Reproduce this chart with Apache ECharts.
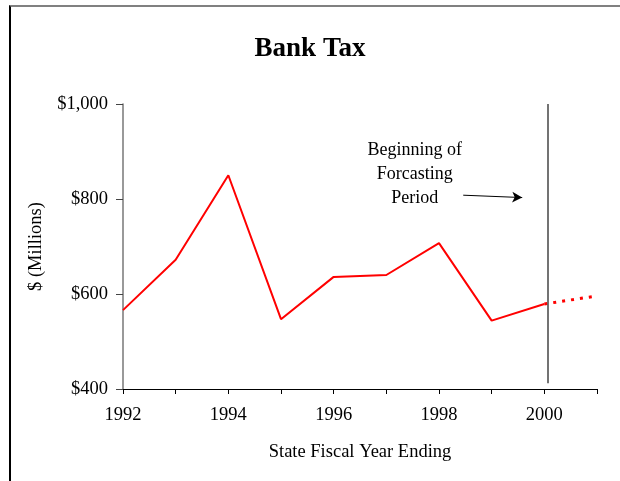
<!DOCTYPE html>
<html>
<head>
<meta charset="utf-8">
<script src="https://cdn.jsdelivr.net/npm/echarts@6/dist/echarts.min.js"></script>
<style>
  html, body { margin: 0; padding: 0; background: #fff; }
  #wrap { position: relative; width: 620px; height: 481px; overflow: hidden; }
  #frame { position: absolute; left: 9px; top: 5px; width: 700px; height: 600px;
           border-top: 2px solid #808080; border-left: 2px solid #000; box-sizing: border-box; }
  #chart { position: absolute; left: 0; top: 0; width: 620px; height: 481px; }
</style>
</head>
<body>
<div id="wrap">
  <div id="frame"></div>
  <div id="chart"></div>
</div>
<script>
// Bank tax collections, $ millions, by state fiscal year ending
const years = [1992, 1993, 1994, 1995, 1996, 1997, 1998, 1999, 2000];
const actual = [566, 672, 850, 547, 636, 640, 707, 544, 579];
const forecastYears = [2000, 2001];
const forecast = [579, 596];
const yTicks = [400, 600, 800, 1000];
const noteLines = ['Beginning of', 'Forcasting', 'Period'];

const FONT = '"Liberation Serif", "Times New Roman", serif';
const forecastStart = 2000.06;

const chart = echarts.init(document.getElementById('chart'), null, { renderer: 'canvas' });

const option = {
  animation: false,
  backgroundColor: 'transparent',
  title: {
    text: 'Bank Tax',
    left: 'center',
    top: 31,
    textStyle: { fontFamily: FONT, fontSize: 27, fontWeight: 'bold', color: '#000' }
  },
  grid: { left: 123, right: 23, top: 104, bottom: 92 },
  xAxis: {
    type: 'value',
    min: 1992,
    max: 2001,
    interval: 1,
    name: 'State Fiscal Year Ending',
    nameLocation: 'middle',
    nameGap: 54,
    nameTextStyle: { fontFamily: FONT, fontSize: 18.5, color: '#000' },
    axisLine: { show: true, onZero: false, lineStyle: { color: '#000', width: 1 } },
    axisTick: { show: true, length: 5, inside: false, lineStyle: { color: '#000' } },
    axisLabel: {
      margin: 17,
      fontFamily: FONT, fontSize: 18.5, color: '#000',
      formatter: v => (v % 2 === 0 && v < 2001) ? String(v) : ''
    },
    splitLine: { show: false }
  },
  yAxis: {
    type: 'value',
    min: yTicks[0],
    max: yTicks[yTicks.length - 1],
    interval: 200,
    name: '$ (Millions)',
    nameLocation: 'middle',
    nameGap: 77,
    nameRotate: 90,
    nameTextStyle: { fontFamily: FONT, fontSize: 18.5, color: '#000' },
    axisLine: { show: true, lineStyle: { color: '#777', width: 1.5 } },
    axisTick: { show: true, length: 7, lineStyle: { color: '#444' } },
    axisLabel: {
      margin: 15,
      fontFamily: FONT, fontSize: 18.5, color: '#000',
      formatter: v => '$' + v.toLocaleString('en-US')
    },
    splitLine: { show: false }
  },
  series: [
    {
      name: 'Actual',
      type: 'line',
      data: years.map((y, i) => [y, actual[i]]),
      symbol: 'none',
      lineStyle: { color: '#ff0000', width: 2 },
      z: 3
    },
    {
      name: 'Forecast',
      type: 'line',
      data: forecastYears.map((y, i) => [y, forecast[i]]),
      symbol: 'none',
      lineStyle: { color: '#ff0000', width: 3, type: [3, 6] },
      z: 3,
      markLine: {
        silent: true,
        animation: false,
        label: { show: false },
        data: [
          [
            { coord: [forecastStart, 1000], symbol: 'none', lineStyle: { color: '#444', width: 1.5, type: 'solid' } },
            { coord: [forecastStart, 412], symbol: 'none' }
          ],
          [
            { coord: [1998.46, 808], symbol: 'none', lineStyle: { color: '#000', width: 1, type: 'solid' } },
            { coord: [1999.58, 803], symbol: 'arrow', symbolSize: [8, 10] }
          ]
        ]
      }
    }
  ]
};

chart.setOption(option);

// Annotation text placed through the axis scales
const notePos = chart.convertToPixel({ gridIndex: 0 }, [1997.54, 852]);
chart.setOption({
  graphic: [{
    type: 'text',
    x: notePos[0],
    y: notePos[1],
    style: {
      text: noteLines.join('\n'),
      font: '18px ' + FONT,
      fill: '#000',
      align: 'center',
      verticalAlign: 'middle',
      lineHeight: 24
    },
    z: 10
  }]
});
</script>
</body>
</html>
